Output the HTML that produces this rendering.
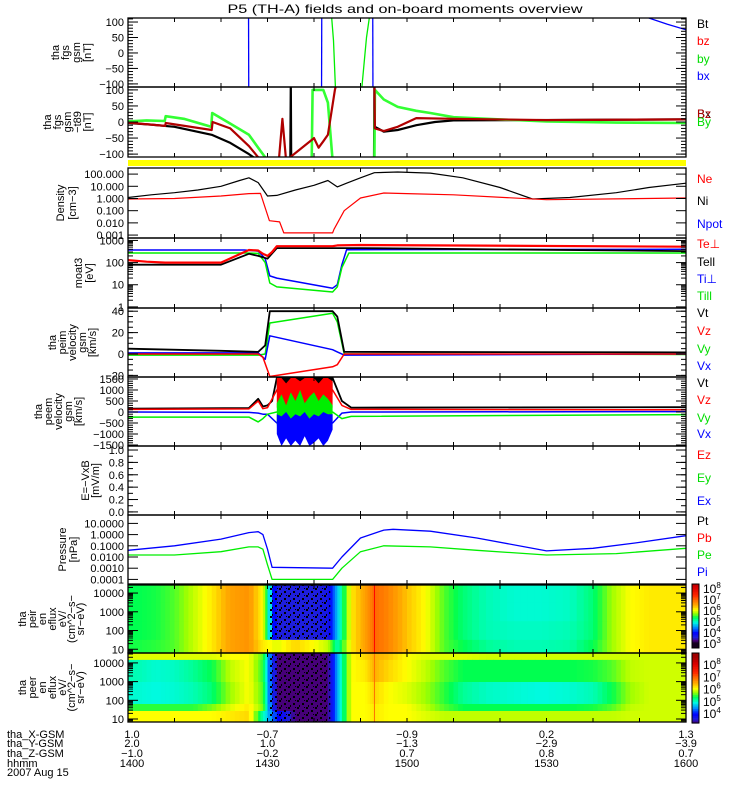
<!DOCTYPE html>
<html><head><meta charset="utf-8"><title>THEMIS overview</title>
<style>
html,body{margin:0;padding:0;background:#fff;}
svg{display:block;font-family:"Liberation Sans",sans-serif;}
</style></head>
<body>
<svg id="chart" width="750" height="800" viewBox="0 0 750 800" xmlns="http://www.w3.org/2000/svg">
<defs>
<pattern id="speck" width="9" height="7" patternUnits="userSpaceOnUse">
<rect x="0" y="0" width="2" height="2" fill="#000"/><rect x="5" y="3" width="2" height="2" fill="#000"/><rect x="2" y="5" width="1" height="2" fill="#000"/><rect x="7" y="0" width="1" height="1" fill="#000"/>
</pattern>
</defs>
<text x="405" y="13" font-size="12" text-anchor="middle" textLength="355" lengthAdjust="spacingAndGlyphs">P5 (TH-A) fields and on-board moments overview</text>
<rect x="128" y="160" width="558" height="6" fill="#ffff00"/>
<g id="layer"></g>
</svg>
<script>
// ---- time axis ----
const T0 = 0, T1 = 120; // minutes after 14:00
// ---- panel 1: fgs gsm ----
const fgsBxT = [25.9,26,null,41.6,41.7,null,52.6,52.7,null,112,116,120];
const fgsBxV = [300,-300,null,-300,300,null,300,-300,null,113,93,75];
const fgsByT = [43.8,44.2,44.6,null,50.3,50.8,51.3,51.9];
const fgsByV = [113,40,-110,null,-110,-30,50,113];
// ---- panel 2: fgs gsm -t89 ----
const t89ByT = [0,4,7.9,8.1,12,17.9,18.1,22,26,28,30,39.5,39.7,42,43,44,53,53.1,55,58,62,65,70,80,90,105,120];
const t89ByV = [2,5,3,18,10,-15,28,-5,-40,-80,-120,-120,100,100,60,-120,-120,100,70,47,35,28,15,8,2,-2,-3];
const t89BzT = [0,8,8.1,18,18.2,22,26,28,30,32.5,33.2,34,40,41,42,43,44.5,45,53,53.1,55,58,62,70,90,120];
const t89BzV = [-2,-12,-3,-25,0,-20,-75,-110,-120,-110,10,-120,-50,-80,-60,-40,100,130,130,-20,-28,-15,12,10,6,8];
const t89BtT = [0,5,10,18,22,26,28,34.9,35,35.1,36,52.9,53,53.1,55,58,62,66,70,120];
const t89BtV = [-3,-8,-15,-40,-65,-100,-120,-120,130,-120,-120,-120,130,-15,-30,-25,-10,0,5,8];
// ---- panel 3: density ----
const niT = [0,5,10,15,20,24,26,28,30,32,36,40,43,45,47,50,53,58,65,72,80,87,95,105,112,120];
const niV = [1.2,2,3,5,10,30,50,20,1.6,1.8,5,12,30,9,18,50,130,150,120,50,8,0.9,1.2,3,8,18];
const neT = [0,10,20,26,28.5,30.4,32.6,33.5,44,44.3,46.5,50,55,60,70,90,120];
const neV = [0.9,1.0,1.6,2.5,2.6,0.015,0.012,0.0015,0.0015,0.003,0.1,1.1,2.8,2.5,2,0.8,1.1];
// ---- panel 4: temperatures ----
const tipT = [0,25,28,29.5,30.5,32,44,45,46,47,120];
const tipV = [370,370,330,150,25,20,7,10,80,380,400];
const tiaT = [0,25,28,29.5,30.5,32,44,45,46,47.5,120];
const tiaV = [270,270,260,100,12,8,4.7,8,60,270,270];
const tepT = [0,4,8,20,26,28,29,30,31,32,44,45,50,120];
const tepV = [130,110,100,100,370,350,250,200,300,550,550,600,620,520];
const teaT = [0,8,20,26,28,30,32,44,46,50,120];
const teaV = [80,80,80,250,200,150,450,450,450,450,330];
// ---- panel 5: peim velocity ----
const imVtT = [0,20,28,29.5,30.5,44,45,46.5,120];
const imVtV = [5,3,2,8,40,40,35,2,1.5];
const imVzT = [0,28,29,30.5,44,45,46.5,120];
const imVzV = [0,0,-3,-21,-12,-10,0,0];
const imVyT = [0,28,29.5,30.5,44,45,46.5,120];
const imVyV = [-1,-1,0,29,38,30,0,-0.5];
const imVxT = [0,28,29.5,30.5,44,45,46.5,120];
const imVxV = [1,1,-5,17,4,2,-1,0];
// ---- panel 6: peem velocity ----
const emVtT = [0,26,28,29,30,31,32,44,46,48,120];
const emVtV = [150,180,600,250,300,500,1545,1545,500,200,220];
const emVzT = [0,26,28,29,30,32,44,46,48,120];
const emVzV = [120,140,500,150,200,1000,1000,300,120,100];
const emVyT = [0,26,28,29,30,32,44,46,48,120];
const emVyV = [-230,-230,-450,-300,-100,0,0,-300,-200,-120];
const emVxT = [0,26,28,29,30,32,44,46,48,120];
const emVxV = [0,-20,-50,-100,-100,-500,-500,-50,0,20];
const bandT = [32,33,34,35,36,37,38,39,40,41,42,43,44];
const blackLo = [900,700,1000,800,1100,700,900,1000,800,1000,900,1100,800];
const blackHi = [1545,1545,1545,1545,1545,1545,1545,1545,1545,1545,1545,1545,1545];
const redLo = [200,0,300,100,400,0,200,300,100,200,0,300,200];
const redHi = [1545,1545,1300,1545,1545,1400,1545,1545,1545,1300,1545,1545,1400];
const greenLo = [-600,-900,-500,-1000,-700,-1000,-600,-900,-800,-600,-1000,-700,-400];
const greenHi = [400,800,300,900,500,1000,400,700,900,500,800,600,300];
const blueLo = [-1000,-1545,-1200,-1545,-1300,-1545,-1100,-1545,-1400,-1200,-1545,-1300,-800];
const blueHi = [-100,-200,0,-300,-100,-200,0,-300,-100,-200,0,-100,-100];
// ---- panel 8: pressure ----
const piT = [0,10,20,26,28,29,30,31,44,46,50,55,57,65,75,90,100,110,120];
const piV = [0.04,0.1,0.4,1.5,1.8,1,0.05,0.0012,0.001,0.01,0.5,2.5,3,2,0.5,0.035,0.06,0.2,0.8];
const peT = [0,10,20,26,28,29,30,31,44,46,50,55,65,75,90,105,120];
const peV = [0.015,0.015,0.03,0.08,0.08,0.05,0.002,0.0001,0.0001,0.001,0.03,0.1,0.08,0.04,0.015,0.02,0.06];
// ---- spectrograms ----
const specT = [0,4,8,12,16,20,24,28,30,34,38,42,44,46,50,52,54,58,62,66,70,74,80,86,92,98,102,106,110,114,120];
const ionE = [4.43,3.5,2.5,1.5,0.8];
const ionRow0 = [5.3,5.35,5.5,5.8,6.1,6.5,6.6,6.0,3.5,3.5,3.5,3.6,4.6,6.1,6.5,6.9,6.7,6.3,6.0,5.5,5.2,5.0,4.9,4.9,4.95,5.2,5.7,6.0,6.1,6.1];
const ionRow1 = [5.3,5.35,5.5,5.8,6.1,6.5,6.6,6.0,3.5,3.5,3.5,3.6,4.6,6.1,6.5,6.9,6.7,6.3,6.0,5.5,5.2,5.0,4.9,4.9,4.95,5.2,5.7,6.0,6.1,6.1];
const ionRow2 = [5.3,5.35,5.5,5.8,6.1,6.5,6.6,6.0,3.5,3.5,3.5,3.6,4.6,6.1,6.5,6.9,6.7,6.3,6.0,5.5,5.2,5.0,4.95,4.95,5.0,5.2,5.7,6.0,6.1,6.1];
const ionRow3 = [5.35,5.4,5.5,5.8,6.1,6.5,6.6,6.1,5.9,6.2,6.0,5.8,5.0,6.1,6.5,6.9,6.7,6.3,6.0,5.5,5.3,5.1,5.0,5.0,5.05,5.3,5.7,6.0,6.1,6.1];
const eleE = [4.53,4.16,2.98,1.8,1.43,0.84];
const eleRow0 = [5.9,5.9,5.9,5.9,5.9,6.0,6.0,5.5,3.2,3.2,3.2,3.2,4.5,6.0,6.2,6.4,6.3,6.0,5.9,5.9,5.9,5.85,5.85,5.85,5.85,5.85,5.85,5.85,5.85,5.85];
const eleRow1 = [5.0,4.9,4.95,5.1,5.3,5.8,6.0,5.4,3.2,3.2,3.2,3.2,4.5,6.0,6.1,6.4,6.2,6.0,5.8,5.5,5.3,5.3,5.3,5.3,5.3,5.35,5.5,5.8,5.85,5.85];
const eleRow2 = [4.9,4.85,4.9,5.0,5.2,5.7,6.0,5.5,3.2,3.2,3.2,3.2,4.5,6.0,6.0,6.2,6.0,5.9,5.7,5.4,5.1,4.95,4.9,4.85,4.9,5.0,5.3,5.7,5.85,5.85];
const eleRow3 = [5.4,5.4,5.4,5.4,5.6,5.9,6.1,5.6,3.2,3.2,3.2,3.2,4.5,6.0,6.0,6.1,6.0,6.0,5.8,5.5,5.3,5.3,5.3,5.3,5.3,5.35,5.5,5.8,5.85,5.85];
const eleRow4 = [6.0,6.0,6.0,6.0,6.0,6.1,6.2,5.0,4.0,3.2,3.2,3.2,4.5,6.0,6.0,6.1,6.0,6.0,5.9,5.8,5.8,5.8,5.8,5.8,5.8,5.8,5.8,5.85,5.85,5.85];
// ---- bottom annotation ----
const annTimes = [0,30,60,90,120];
const annX = ['1.0','\u22120.7','\u22120.9','0.2','1.3'];
const annY = ['2.0','1.0','\u22121.3','\u22122.9','\u22123.9'];
const annZ = ['\u22121.0','\u22120.2','0.7','0.8','0.7'];
const annH = ['1400','1430','1500','1530','1600'];

const NS = 'http://www.w3.org/2000/svg';
const layer = document.getElementById('layer');
const XL = 128, XR = 686;
function X(t){ return XL + (t - T0) / (T1 - T0) * (XR - XL); }
function mk(tag, attrs, parent){ const e = document.createElementNS(NS, tag); for (const k in attrs) e.setAttribute(k, attrs[k]); (parent || layer).appendChild(e); return e; }

const panels = [
 {key:'fgs', top:18, bot:87, log:false, min:-110, max:113, labV:[100,50,0,-50,-100], labS:['100','50','0','\u221250','\u2212100'], minor:10, title:['tha','fgs','gsm','[nT]'], tx:[55,65,76,87]},
 {key:'fgs-t89', top:87, bot:157, log:false, min:-109, max:109, labV:[100,50,0,-50,-100], labS:['100','50','0','\u221250','\u2212100'], minor:10, title:['tha','fgs','gsm','\u2212t89','[nT]'], tx:[47,57,67,77,87]},
 {key:'density', top:168, bot:238, log:true, min:-3.24, max:2.5, labV:[2,1,0,-1,-2,-3], labS:['100.000','10.000','1.000','0.100','0.010','0.001'], minor:0, title:['Density','[cm\u22123]'], tx:[60,72]},
 {key:'temperature', top:238, bot:308, log:true, min:-0.05, max:3.11, labV:[3,2,1,0], labS:['1000','100','10','1'], minor:1, title:['moat3','[eV]'], tx:[78,89]},
 {key:'peim-velocity', top:308, bot:377, log:false, min:-21.5, max:43, labV:[40,20,0,-20], labS:['40','20','0','\u221220'], minor:5, title:['tha','peim','velocity','gsm','[km/s]'], tx:[52,62,72,82,92]},
 {key:'peem-velocity', top:377, bot:446, log:false, min:-1545, max:1590, labV:[1500,1000,500,0,-500,-1000,-1500], labS:['1500','1000','500','0','\u2212500','\u22121000','\u22121500'], minor:100, title:['tha','peem','velocity','gsm','[km/s]'], tx:[38,48,58,68,78]},
 {key:'efield', top:446, bot:515, log:false, min:-0.05, max:1.065, labV:[1,0.8,0.6,0.4,0.2,0], labS:['1.0','0.8','0.6','0.4','0.2','0.0'], minor:0.1, title:['E=\u2212VxB','[mV/m]'], tx:[85,95]},
 {key:'pressure', top:515, bot:584, log:true, min:-4.41, max:1.75, labV:[1,0,-1,-2,-3,-4], labS:['10.0000','1.0000','0.1000','0.0100','0.0010','0.0001'], minor:0, title:['Pressure','[nPa]'], tx:[62,73]},
 {key:'ion-spectrogram', top:585, bot:653, log:true, min:0.8, max:4.43, labV:[4,3,2,1], labS:['10000','1000','100','10'], minor:1, title:['tha','peir','en','eflux','eV/','(cm^2\u2212s\u2212','sr\u2212eV)'], tx:[22,32,42,52,62,71,80]},
 {key:'electron-spectrogram', top:653, bot:722, log:true, min:0.84, max:4.53, labV:[4,3,2,1], labS:['10000','1000','100','10'], minor:1, title:['tha','peer','en','eflux','eV/','(cm^2\u2212s\u2212','sr\u2212eV)'], tx:[22,32,42,52,62,71,80]}
];
function Y(p, v){
  let u = v;
  if (p.log) u = v > 0 ? Math.log10(v) : p.min - 10;
  return p.bot - (u - p.min) / (p.max - p.min) * (p.bot - p.top);
}
function Yl(p, lv){ return p.bot - (lv - p.min) / (p.max - p.min) * (p.bot - p.top); }

// colormap for spectrograms
const cmV = [3.0,3.2,3.5,3.9,4.4,4.85,5.1,5.3,5.7,6.0,6.4,6.8,7.3,8.0,8.6];
const cmC = [[20,0,30],[70,0,120],[30,30,220],[0,0,255],[0,140,255],[0,250,225],[0,255,150],[0,255,80],[160,255,0],[255,255,0],[255,175,0],[255,120,0],[255,40,0],[220,0,0],[160,0,0]];
function cmap(v){
  if (v <= cmV[0]) return 'rgb(' + cmC[0].join(',') + ')';
  for (let i = 1; i < cmV.length; i++){
    if (v <= cmV[i]){ const f = (v - cmV[i-1]) / (cmV[i] - cmV[i-1]); const c = cmC[i-1].map((a, j) => Math.round(a + f * (cmC[i][j] - a))); return 'rgb(' + c.join(',') + ')'; }
  }
  return 'rgb(' + cmC[cmC.length-1].join(',') + ')';
}

// clip paths
const defs = document.querySelector('defs');
panels.forEach((p, i) => {
  const cp = mk('clipPath', {id:'clip' + i}, defs);
  mk('rect', {x:XL, y:p.top, width:XR - XL, height:p.bot - p.top}, cp);
});

// spectrograms (cells subdivided, colour interpolated between column centres)
function drawSpec(pi, edges, rows, name){
  const p = panels[pi];
  const g = mk('g', {'clip-path':'url(#clip' + pi + ')'});
  
  
  const nc = specT.length - 1;
  const centers = [];
  for (let c = 0; c < nc; c++) centers.push((specT[c] + specT[c+1]) / 2);
  function valAt(row, t){
    if (t <= centers[0]) return row[0];
    if (t >= centers[nc-1]) return row[nc-1];
    for (let c = 1; c < nc; c++){
      if (t <= centers[c]){ const f = (t - centers[c-1]) / (centers[c] - centers[c-1]); return row[c-1] + f * (row[c] - row[c-1]); }
    }
    return row[nc-1];
  }
  rows.forEach((row, r) => {
    const y0 = Yl(p, edges[r]), y1 = Yl(p, edges[r+1]);
    for (let c = 0; c < nc; c++){
      const sub = 4;
      for (let s = 0; s < sub; s++){
        const ta = specT[c] + (specT[c+1] - specT[c]) * s / sub;
        const tb = specT[c] + (specT[c+1] - specT[c]) * (s + 1) / sub;
        const x0 = X(ta), x1 = X(tb);
        const cell = mk('rect', {x:x0.toFixed(1), y:y0.toFixed(1), width:(x1 - x0 + 0.6).toFixed(1), height:(y1 - y0 + 0.6).toFixed(1), fill:cmap(valAt(row, (ta + tb) / 2))}, g);
        
        
      }
    }
  });
  return g;
}
const ionG = drawSpec(8, ionE, [ionRow0, ionRow1, ionRow2, ionRow3], 'ion-spectrogram-cells');
mk('rect', {x:X(30.5), y:panels[8].top, width:X(43.5) - X(30.5), height:Yl(panels[8],1.5) - panels[8].top, fill:'url(#speck)'}, ionG);
mk('line', {x1:X(53), x2:X(53), y1:panels[8].top, y2:panels[8].bot, stroke:'#ff0000', 'stroke-width':1}, ionG);
const eleG = drawSpec(9, eleE, [eleRow0, eleRow1, eleRow2, eleRow3, eleRow4], 'electron-spectrogram-cells');
mk('rect', {x:X(30.5), y:panels[9].top, width:X(43.5) - X(30.5), height:panels[9].bot - panels[9].top, fill:'url(#speck)'}, eleG);
mk('line', {x1:X(53), x2:X(53), y1:panels[9].top, y2:panels[9].bot, stroke:'#ff7000', 'stroke-width':1}, eleG);

// series
function series(pi, tArr, vArr, color, w, name){
  const p = panels[pi];
  const g = mk('g', {'clip-path':'url(#clip' + pi + ')'});
  
  
  let pts = [];
  const flush = () => { if (pts.length > 1) mk('polyline', {points:pts.join(' '), fill:'none', stroke:color, 'stroke-width':w, 'stroke-linejoin':'round'}, g); pts = []; };
  for (let i = 0; i < tArr.length; i++){
    if (tArr[i] === null || vArr[i] === null){ flush(); continue; }
    pts.push(X(tArr[i]).toFixed(1) + ',' + Y(p, vArr[i]).toFixed(1));
  }
  flush();
}
function band(pi, lo, hi, color, name){
  const p = panels[pi];
  const g = mk('g', {'clip-path':'url(#clip' + pi + ')'});
  
  
  const pts = [];
  for (let i = 0; i < bandT.length; i++) pts.push(X(bandT[i]).toFixed(1) + ',' + Y(p, hi[i]).toFixed(1));
  for (let i = bandT.length - 1; i >= 0; i--) pts.push(X(bandT[i]).toFixed(1) + ',' + Y(p, lo[i]).toFixed(1));
  mk('polygon', {points:pts.join(' '), fill:color}, g);
}
const DR = '#b00000';
series(0, fgsBxT, fgsBxV, '#0000ff', 1.3, 'series-bx');
series(0, fgsByT, fgsByV, '#00ee00', 1.3, 'series-by');
series(1, t89BtT, t89BtV, '#000000', 2.2, 'series-t89-bt');
series(1, t89ByT, t89ByV, '#33ff33', 2.6, 'series-t89-by');
series(1, t89BzT, t89BzV, DR, 2.2, 'series-t89-bz');
series(2, niT, niV, '#000000', 1.2, 'series-ni');
series(2, neT, neV, '#ff0000', 1.2, 'series-ne');
series(3, tipT, tipV, '#0000ff', 1.5, 'series-ti-perp');
series(3, tiaT, tiaV, '#00ee00', 1.5, 'series-ti-para');
series(3, teaT, teaV, '#000000', 1.8, 'series-te-para');
series(3, tepT, tepV, '#ff0000', 2.2, 'series-te-perp');
series(4, imVyT, imVyV, '#00ee00', 1.5, 'series-peim-vy');
series(4, imVxT, imVxV, '#0000ff', 1.5, 'series-peim-vx');
series(4, imVzT, imVzV, '#ff0000', 1.5, 'series-peim-vz');
series(4, imVtT, imVtV, '#000000', 1.8, 'series-peim-vt');
series(5, emVtT, emVtV, '#000000', 1.8, 'series-peem-vt');
series(5, emVzT, emVzV, '#ff0000', 1.5, 'series-peem-vz');
series(5, emVxT, emVxV, '#0000ff', 1.5, 'series-peem-vx');
series(5, emVyT, emVyV, '#00ee00', 1.5, 'series-peem-vy');
band(5, blackLo, blackHi, '#000000', 'band-peem-vt');
band(5, redLo, redHi, '#ff0000', 'band-peem-vz');
band(5, greenLo, greenHi, '#00ee00', 'band-peem-vy');
band(5, blueLo, blueHi, '#0000ff', 'band-peem-vx');
series(7, peT, peV, '#00ee00', 1.3, 'series-pe');
series(7, piT, piV, '#0000ff', 1.3, 'series-pi');

// axes
panels.forEach((p, i) => {
  const g = mk('g', {});
  
  
  mk('rect', {x:XL, y:p.top, width:XR - XL, height:p.bot - p.top, fill:'none', stroke:'#000', 'stroke-width':1.3}, g);
  for (let t = T0; t <= T1; t += 10){
    const x = X(t);
    mk('line', {x1:x, x2:x, y1:p.top, y2:p.top + 4, stroke:'#000'}, g);
    mk('line', {x1:x, x2:x, y1:p.bot, y2:p.bot - 4, stroke:'#000'}, g);
  }
  if (p.minor){
    if (p.log){
      for (let d = Math.floor(p.min); d <= Math.ceil(p.max); d++){
        for (let m = 2; m <= 9; m++){
          const y = Yl(p, d + Math.log10(m));
          if (y < p.top || y > p.bot) continue;
          mk('line', {x1:XL, x2:XL + 5, y1:y, y2:y, stroke:'#000'}, g);
          mk('line', {x1:XR, x2:XR - 5, y1:y, y2:y, stroke:'#000'}, g);
        }
      }
    } else {
      for (let v = Math.ceil(p.min / p.minor) * p.minor; v <= p.max; v += p.minor){
        const y = Y(p, v);
        mk('line', {x1:XL, x2:XL + 5, y1:y, y2:y, stroke:'#000'}, g);
        mk('line', {x1:XR, x2:XR - 5, y1:y, y2:y, stroke:'#000'}, g);
      }
    }
  }
  p.labV.forEach((v, k) => {
    const y = p.log ? Yl(p, v) : Y(p, v);
    mk('line', {x1:XL, x2:XL + 10, y1:y, y2:y, stroke:'#000'}, g);
    mk('line', {x1:XR, x2:XR - 10, y1:y, y2:y, stroke:'#000'}, g);
    const tl = mk('text', {x:XL - 4, y:y + 4, 'font-size':11, 'text-anchor':'end'}, g);
    tl.textContent = p.labS[k];
    
    
  });
  const cy = (p.top + p.bot) / 2;
  p.title.forEach((s, k) => {
    const bx = p.tx[k] + 4;
    const tt = mk('text', {x:bx, y:cy, 'font-size':11, 'text-anchor':'middle', transform:'rotate(-90 ' + bx + ' ' + cy + ')'}, g);
    tt.textContent = s;
    
    
  });
});

// legends
const legends = [
 ['Bt','#000',24],['bz','#ff0000',41],['by','#00dd00',59],['bx','#0000ff',76],
 ['Bx','#000',114],['Bz',DR,114],['By','#00dd00',122],
 ['Ne','#ff0000',179],['Ni','#000',201],['Npot','#0000ff',224],
 ['Te\u22a5','#ff0000',244],['Tell','#000',262],['Ti\u22a5','#0000ff',279],['Till','#00dd00',296],
 ['Vt','#000',313],['Vz','#ff0000',331],['Vy','#00dd00',349],['Vx','#0000ff',366],
 ['Vt','#000',383],['Vz','#ff0000',400],['Vy','#00dd00',418],['Vx','#0000ff',434],
 ['Ez','#ff0000',455],['Ey','#00dd00',478],['Ex','#0000ff',501],
 ['Pt','#000',521],['Pb','#ff0000',538],['Pe','#00dd00',555],['Pi','#0000ff',572]
];
legends.forEach(l => {
  const t = mk('text', {x:697, y:l[2] + 4, 'font-size':12, fill:l[1]});
  t.textContent = l[0];
  
  
});

// colorbars
const cbIonLevels = [2.55, 8.36];
const cbEleLevels = [3.2, 8.9];
function colorbar(top, bot, lv, name){
  const g = mk('g', {});
  
  
  const n = 40, h = (bot - top) / n;
  for (let i = 0; i < n; i++){
    const v = lv[1] - (i + 0.5) / n * (lv[1] - lv[0]);
    mk('rect', {x:692, y:(top + i * h).toFixed(1), width:7, height:(h + 0.5).toFixed(1), fill:cmap(v)}, g);
  }
  mk('rect', {x:692, y:top, width:7, height:bot - top, fill:'none', stroke:'#000'}, g);
  return g;
}
const cbIonExp = [8,7,6,5,4,3];
const cbEleExp = [8,7,6,5,4];
const gi = colorbar(584, 648, cbIonLevels, 'ion-colorbar');
const ge = colorbar(653, 723, cbEleLevels, 'electron-colorbar');
function cbLabels(g, top, bot, lv, exps){
  exps.forEach(e => {
    const y = bot - (e - lv[0]) / (lv[1] - lv[0]) * (bot - top);
    const t = mk('text', {x:703, y:y + 5, 'font-size':12}, g);
    t.textContent = '10';
    const s = mk('tspan', {dy:-5, 'font-size':8}, t);
    s.textContent = String(e);
  });
}
cbLabels(gi, 584, 648, cbIonLevels, cbIonExp);
cbLabels(ge, 653, 723, cbEleLevels, cbEleExp);

// bottom annotation
const rowNames = ['tha_X-GSM','tha_Y-GSM','tha_Z-GSM','hhmm','2007 Aug 15'];
const rowY = [738,747,757,767,776];
rowNames.forEach((s, i) => {
  const t = mk('text', {x:7, y:rowY[i], 'font-size':11});
  t.textContent = s;
  
  
});
[annX, annY, annZ, annH].forEach((arr, r) => {
  arr.forEach((s, k) => {
    const t = mk('text', {x:X(annTimes[k]) + (k === 0 ? 4 : 0), y:rowY[r], 'font-size':11, 'text-anchor':'middle'});
    t.textContent = s;
    
    
  });
});
</script>
</body></html>
